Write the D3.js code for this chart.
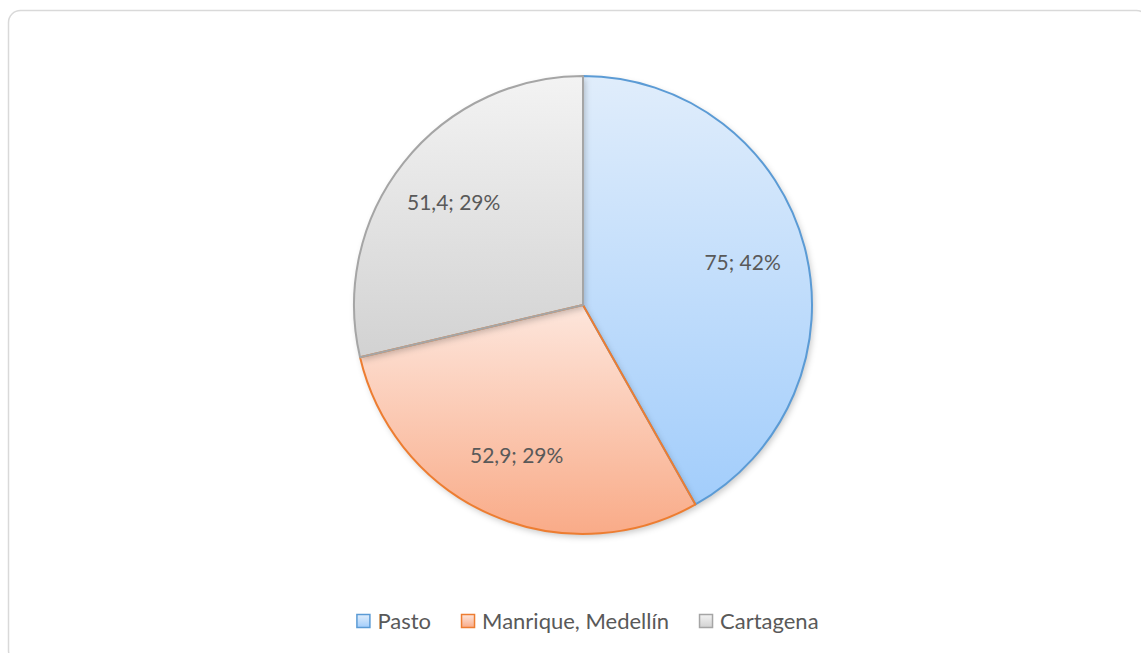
<!DOCTYPE html>
<html>
<head>
<meta charset="utf-8">
<script src="https://cdn.jsdelivr.net/npm/d3@7"></script>
<style>
  body { margin: 0; background: #fff; }
  svg { display: block; }
  text { font-family: "Lato", "Open Sans", sans-serif; fill: #595959; }
</style>
</head>
<body>
<svg id="chart"></svg>
<script>
var width = 1141, height = 653;

// data
var categories = ["Pasto", "Manrique, Medellín", "Cartagena"];
var values = [75, 52.9, 51.4];
var valueLabels = ["75", "52,9", "51,4"];
var percentLabels = ["42%", "29%", "29%"];

// colours per slice (gradient top / bottom, outline)
var topColors = ["#e0edfb", "#fde6dc", "#f3f3f3"];
var bottomColors = ["#a2cdfb", "#f9ab88", "#d2d2d2"];
var strokeColors = ["#5b9bd5", "#ed7d31", "#a5a5a5"];

var svg = d3.select("#chart").attr("width", width).attr("height", height);

// chart area outline
svg.append("rect")
  .attr("x", 8.5).attr("y", 10.5)
  .attr("width", 1140).attr("height", 652)
  .attr("rx", 12).attr("ry", 12)
  .attr("fill", "#fff")
  .attr("stroke", "#d9d9d9")
  .attr("stroke-width", 1.5);

var defs = svg.append("defs");
var shadow = defs.append("filter").attr("id", "shadow")
  .attr("x", "-20%").attr("y", "-20%").attr("width", "140%").attr("height", "140%");
shadow.append("feDropShadow")
  .attr("dx", 2).attr("dy", 3).attr("stdDeviation", 3)
  .attr("flood-color", "#000").attr("flood-opacity", 0.22);

categories.forEach(function (c, i) {
  var g = defs.append("linearGradient").attr("id", "grad" + i)
    .attr("x1", 0).attr("y1", 0).attr("x2", 0).attr("y2", 1);
  g.append("stop").attr("offset", "0%").attr("stop-color", topColors[i]);
  g.append("stop").attr("offset", "100%").attr("stop-color", bottomColors[i]);
});

var cx = 583, cy = 305, radius = 229;

var pie = d3.pie().sort(null).value(function (d) { return d; });
var arcs = pie(values);
var arc = d3.arc().innerRadius(0).outerRadius(radius);
var labelArc = d3.arc().innerRadius(165).outerRadius(165);

var pieG = svg.append("g").attr("transform", "translate(" + cx + "," + cy + ")");

pieG.selectAll("path.slice")
  .data(arcs)
  .enter().append("path")
  .attr("class", "slice")
  .attr("d", arc)
  .attr("fill", function (d, i) { return "url(#grad" + i + ")"; })
  .attr("filter", "url(#shadow)");

// outlines drawn on top so shadow doesn't cover neighbours
pieG.selectAll("path.outline")
  .data(arcs)
  .enter().append("path")
  .attr("class", "outline")
  .attr("d", arc)
  .attr("fill", "none")
  .attr("stroke", function (d, i) { return strokeColors[i]; })
  .attr("stroke-width", 2)
  .attr("stroke-linejoin", "round");

pieG.selectAll("text.lbl")
  .data(arcs)
  .enter().append("text")
  .attr("class", "lbl")
  .attr("transform", function (d) { return "translate(" + labelArc.centroid(d) + ")"; })
  .attr("text-anchor", "middle")
  .attr("dy", "0.35em")
  .style("font-size", "21px")
  .text(function (d, i) { return valueLabels[i] + "; " + percentLabels[i]; });

// legend
var legend = svg.append("g").attr("transform", "translate(0,621)");
var items = legend.selectAll("g.item").data(categories).enter().append("g").attr("class", "item");
items.append("rect")
  .attr("x", 0.5).attr("y", -6.5)
  .attr("width", 13).attr("height", 13)
  .attr("fill", function (d, i) { return "url(#grad" + i + ")"; })
  .attr("stroke", function (d, i) { return strokeColors[i]; })
  .attr("stroke-width", 1.5);
items.append("text")
  .attr("x", 21)
  .attr("dy", "0.35em")
  .style("font-size", "22px")
  .text(function (d) { return d; });

var widths = [];
items.each(function () {
  widths.push(21 + d3.select(this).select("text").node().getComputedTextLength());
});
var gap = 30;
var total = d3.sum(widths) + gap * (widths.length - 1);
var xPos = (width - total) / 2 + 17;
items.attr("transform", function (d, i) {
  var x = xPos;
  xPos += widths[i] + gap;
  return "translate(" + x + ",0)";
});
</script>
</body>
</html>
